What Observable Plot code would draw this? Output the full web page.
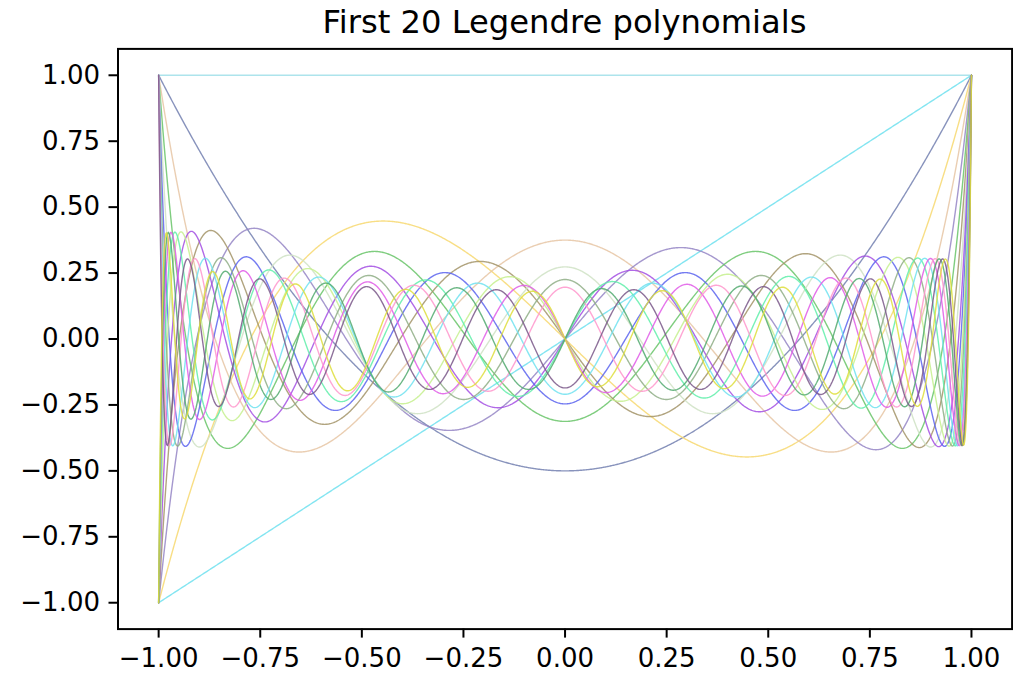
<!DOCTYPE html>
<html><head><meta charset="utf-8">
<script src="https://cdn.jsdelivr.net/npm/d3@7"></script>
<script src="https://cdn.jsdelivr.net/npm/@observablehq/plot@0.6"></script>
<style>
body{margin:0;background:#fff;}
#wrap{position:relative;width:1013px;height:673px;font-family:"DejaVu Sans",sans-serif;}
#title{position:absolute;left:117.5px;width:894px;top:6px;text-align:center;font-size:32.2px;line-height:1;color:#000;white-space:nowrap;}
#chart{position:absolute;left:0;top:0;}
</style></head><body>
<div id="wrap"><div id="chart"></div><div id="title"></div></div>
<script>
const chartTitle = "First 20 Legendre polynomials";
const degrees = [0,1,2,3,4,5,6,7,8,9,10,11,12,13,14,15,16,17,18,19];
const lineColors = ["#9fdfe9","#6fe0ee","#7380b0","#f7d870","#e6c6a4","#9586c6","#68c468","#a39468","#cfe2c4","#a34fe3",
                    "#5c64ee","#c6f08e","#8fae86","#60eeaa","#70e2f0","#e05ce8","#ff96cc","#52aa70","#7a5889","#dede3c"];
const sampleCount = 1000;
const xTicks = [-1, -0.75, -0.5, -0.25, 0, 0.25, 0.5, 0.75, 1];
const yTicks = [-1, -0.75, -0.5, -0.25, 0, 0.25, 0.5, 0.75, 1];

function legendre(n, x) {
  if (n === 0) return 1;
  let p0 = 1, p1 = x;
  for (let k = 1; k < n; k++) {
    const p2 = ((2 * k + 1) * x * p1 - k * p0) / (k + 1);
    p0 = p1; p1 = p2;
  }
  return p1;
}
const xs = d3.range(sampleCount).map(i => -1 + 2 * i / (sampleCount - 1));
const rows = degrees.flatMap(n => xs.map(x => ({n, x, y: legendre(n, x)})));

document.getElementById("title").textContent = chartTitle;
const fmt = d3.format(".2f");
const chart = Plot.plot({
  width: 1013, height: 673,
  marginLeft: 117.5, marginRight: 1.4, marginTop: 48.4, marginBottom: 44.4,
  style: {fontFamily: "DejaVu Sans, sans-serif", fontSize: "26px", background: "white", color: "black", overflow: "visible"},
  x: {domain: [-1.1, 1.1]},
  y: {domain: [-1.1, 1.1]},
  marks: [
    Plot.line(rows, {x: "x", y: "y", z: "n", stroke: d => lineColors[d.n], strokeWidth: 1.4, strokeOpacity: 0.85}),
    Plot.frame({stroke: "black", strokeWidth: 2}),
    Plot.axisX({ticks: xTicks, tickFormat: fmt, tickSize: 9, tickPadding: 10, strokeWidth: 2, fontSize: 26, label: null}),
    Plot.axisY({ticks: yTicks, tickFormat: fmt, tickSize: 9, tickPadding: 9, strokeWidth: 2, fontSize: 26, label: null})
  ]
});
document.getElementById("chart").appendChild(chart);
</script>
</body></html>
